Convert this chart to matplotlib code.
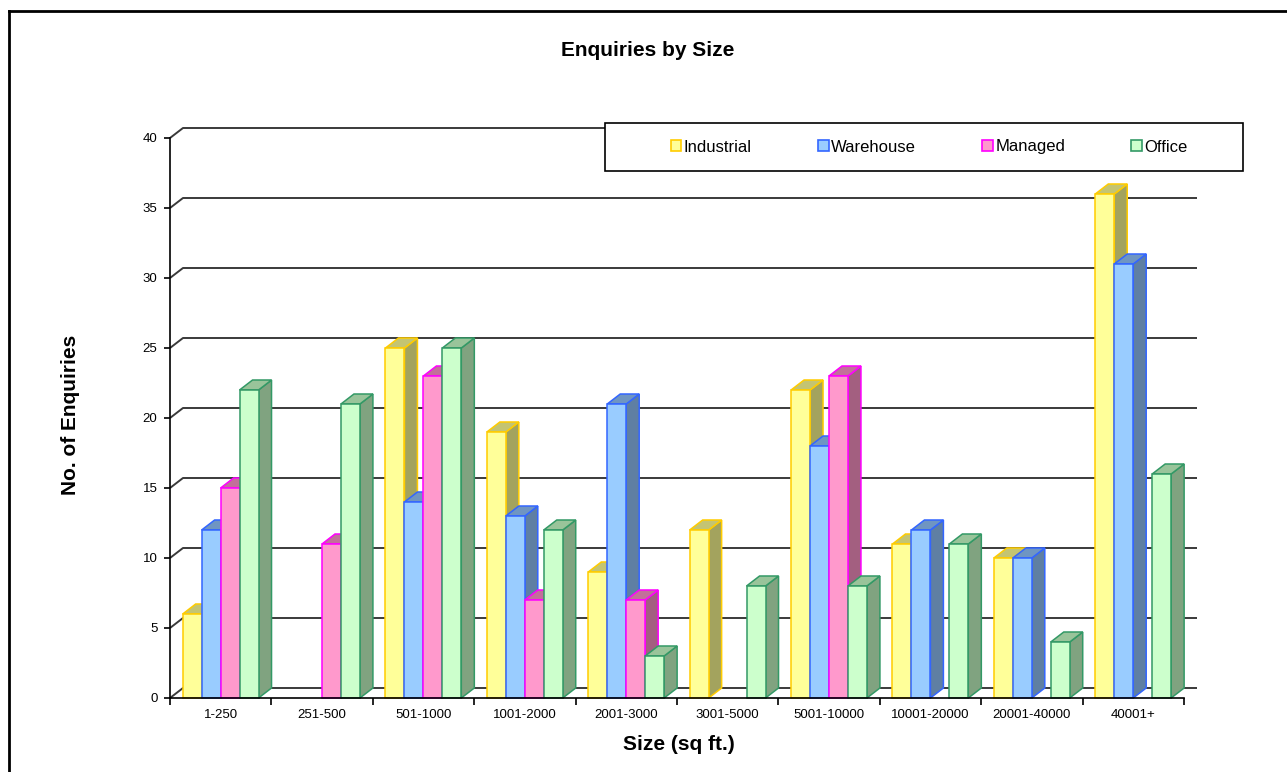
import matplotlib
matplotlib.use("Agg")
import matplotlib.pyplot as plt
from matplotlib.patches import Rectangle, Polygon, Patch
from matplotlib.lines import Line2D

plt.rcParams["font.family"] = ["Liberation Sans", "DejaVu Sans"]

# ---- data -------------------------------------------------------------
categories = ["1-250", "251-500", "501-1000", "1001-2000", "2001-3000",
              "3001-5000", "5001-10000", "10001-20000", "20001-40000", "40001+"]
series_names = ["Industrial", "Warehouse", "Managed", "Office"]
industrial = [6, 0, 25, 19, 9, 12, 22, 11, 10, 36]
warehouse = [12, 0, 14, 13, 21, 0, 18, 12, 10, 31]
managed = [15, 11, 23, 7, 7, 0, 23, 0, 0, 0]
office = [22, 21, 25, 12, 3, 8, 8, 11, 4, 16]
y_ticks = [0, 5, 10, 15, 20, 25, 30, 35, 40]

# face, edge, side (shaded), top (shaded)
styles = [
    ("#FFFF99", "#FFCC00", "#A3A35E", "#C4C472"),
    ("#99CCFF", "#3366FF", "#5F7FA3", "#6F95C2"),
    ("#FF99CC", "#FF00FF", "#A35F80", "#C2709A"),
    ("#CCFFCC", "#339966", "#80A380", "#99C49A"),
]

W, H = 1287, 772
fig = plt.figure(figsize=(W / 100, H / 100), dpi=100)
fig.patch.set_facecolor("white")

# front plane of the plot (pixel geometry converted to figure fractions)
x0_px, x1_px = 170, 1184
y0_px, y1_px = 698, 138
ax = fig.add_axes([x0_px / W, 1 - y0_px / H, (x1_px - x0_px) / W, (y0_px - y1_px) / H])
ax.set_xlim(0, len(categories))
ax.set_ylim(0, 40)
ax.set_facecolor("none")

# depth of the 3-D effect in data units (13 px right, 10 px up)
px_x = (x1_px - x0_px) / len(categories)
px_y = (y0_px - y1_px) / 40
DX = 13 / px_x
DY = 10 / px_y

# back wall / side wall gridlines
grid_col = "#3a3a3a"
for v in y_ticks:
    ax.plot([0, DX, len(categories) + DX], [v, v + DY, v + DY],
            color=grid_col, lw=1.4, clip_on=False, zorder=1,
            solid_capstyle="butt")

# bars
series = [industrial, warehouse, managed, office]
bar_w = 0.187
offset = 0.125
z = 2
for i in range(len(categories)):
    for j, vals in enumerate(series):
        v = vals[i]
        if v <= 0:
            continue
        face, edge, side, top = styles[j]
        xl = i + offset + j * bar_w
        xr = xl + bar_w
        ax.add_patch(Polygon([(xr, 0), (xr + DX, DY), (xr + DX, v + DY), (xr, v)],
                             closed=True, facecolor=side, edgecolor=edge,
                             lw=1.1, zorder=z, clip_on=False, joinstyle="miter"))
        ax.add_patch(Polygon([(xl, v), (xr, v), (xr + DX, v + DY), (xl + DX, v + DY)],
                             closed=True, facecolor=top, edgecolor=edge,
                             lw=1.1, zorder=z, clip_on=False, joinstyle="miter"))
        ax.add_patch(Rectangle((xl, 0), bar_w, v, facecolor=face, edgecolor=edge,
                               lw=1.1, zorder=z + 0.5, clip_on=False))
        z += 1

# axes
for s in ("top", "right"):
    ax.spines[s].set_visible(False)
for s in ("left", "bottom"):
    ax.spines[s].set_color("black")
    ax.spines[s].set_linewidth(1.2)
    ax.spines[s].set_zorder(200)

ax.set_yticks(y_ticks)
ax.set_yticklabels([str(t) for t in y_ticks])
ax.tick_params(axis="y", direction="out", length=4, width=1.2, pad=5,
               labelsize=9.5, colors="black")
ax.set_xticks(range(len(categories) + 1))
ax.set_xticklabels([])
ax.set_xticks([i + 0.5 for i in range(len(categories))], minor=True)
ax.set_xticklabels(categories, minor=True)
ax.tick_params(axis="x", which="major", direction="out", length=5, width=1.2)
ax.tick_params(axis="x", which="minor", length=0, pad=8, labelsize=9.5)

# titles
fig.text(648 / W, 1 - 50 / H, "Enquiries by Size", ha="center", va="center",
         fontsize=15, fontweight="bold")
fig.text(679 / W, 1 - 745 / H, "Size (sq ft.)", ha="center", va="center",
         fontsize=15, fontweight="bold")
fig.text(71 / W, 1 - 415 / H, "No. of Enquiries", ha="center", va="center",
         rotation=90, fontsize=15, fontweight="bold")

# legend frame and entries
lx0, lx1, ly0, ly1 = 605, 1243, 123, 171
fig.add_artist(Rectangle((lx0 / W, 1 - ly1 / H), (lx1 - lx0) / W, (ly1 - ly0) / H,
                         transform=fig.transFigure, facecolor="white",
                         edgecolor="black", lw=1.2, zorder=300))
handles = [Patch(facecolor=s[0], edgecolor=s[1], lw=1.2) for s in styles]
leg = fig.legend(handles, series_names, loc="center",
                 bbox_to_anchor=(((lx0 + lx1) / 2 + 5) / W, 1 - (ly0 + ly1) / 2 / H),
                 ncol=4, frameon=False, fontsize=12, handlelength=0.65,
                 handleheight=0.65, handletextpad=0.15, columnspacing=3.95)
leg.set_zorder(301)

# outer border (left and top edges fall inside the canvas)
fig.add_artist(Line2D([8.5 / W, 8.5 / W], [0, 1 - 11 / H], transform=fig.transFigure,
                      color="black", lw=2.0))
fig.add_artist(Line2D([8.5 / W, 1.0], [1 - 11 / H, 1 - 11 / H], transform=fig.transFigure,
                      color="black", lw=2.0))

fig.savefig("out.png", dpi=100)
